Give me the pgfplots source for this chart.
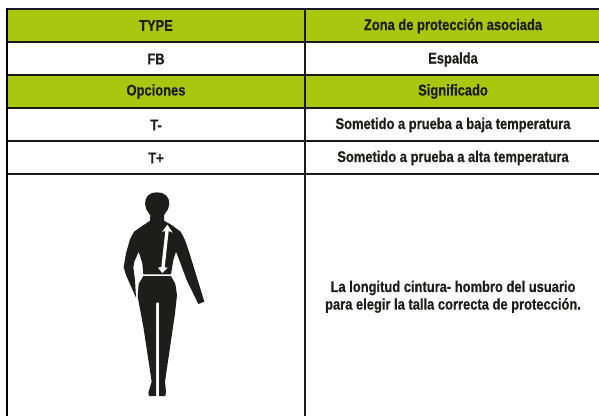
\documentclass[border=0pt]{standalone}
\usepackage{pgfplots}
\pgfplotsset{compat=1.18}
\usepackage{fontspec}
\setmainfont{Liberation Sans}[FakeStretch=0.834,BoldFeatures={FakeBold=0.5}]
\definecolor{grn}{RGB}{168,199,14}
\definecolor{ink}{RGB}{29,29,27}
\tikzset{lab/.style={font=\bfseries\fontsize{15.5}{18}\selectfont,text=ink,align=center,anchor=center}}
\pgfplotsset{
  base/.style={scale only axis,width=599pt,height=416pt,axis lines=none,clip=true,y dir=reverse,ticks=none},
  sheet/.style={base,xmin=0,xmax=599,ymin=0,ymax=416},
  figure/.style={base,xmin=-270,xmax=1527,ymin=-540,ymax=708},
  sil/.style={fill=ink,draw=none,forget plot},
  wht/.style={fill=white,draw=none,forget plot},
}
\begin{document}
\begin{tikzpicture}
\path[use as bounding box] (0,0) rectangle (599pt,416pt);
\begin{axis}[sheet,at={(0,0)},anchor=south west]
% green bands
\addplot[fill=grn,draw=none] coordinates {(7,9)(599,9)(599,42)(7,42)} --cycle;
\addplot[fill=grn,draw=none] coordinates {(7,75)(599,75)(599,108)(7,108)} --cycle;
% rules
\pgfplotsinvokeforeach{9,42,75,108,141,174}{
  \addplot[black!90,line width=2.4pt] coordinates {(6,#1)(599,#1)};
}
\addplot[black,line width=2.4pt] coordinates {(7,8)(7,416)};
\addplot[black!90,line width=2.4pt] coordinates {(305,8)(305,416)};
\node[lab] at (axis cs:156,25.5) {TYPE};
\node[lab] at (axis cs:453,26) {Zona de protección asociada};
\node[lab] at (axis cs:156,59) {FB};
\node[lab] at (axis cs:453,59.5) {Espalda};
\node[lab] at (axis cs:156,91.5) {Opciones};
\node[lab] at (axis cs:453,91.5) {Significado};
\node[lab] at (axis cs:156,125) {T-};
\node[lab] at (axis cs:453,125) {Sometido a prueba a baja temperatura};
\node[lab] at (axis cs:156,158) {T+};
\node[lab] at (axis cs:453,158) {Sometido a prueba a alta temperatura};
\node[lab] at (axis cs:453,288) {La longitud cintura- hombro del usuario};
\node[lab] at (axis cs:453,305.5) {para elegir la talla correcta de protección.};
\end{axis}
\begin{axis}[figure,at={(0,0)},anchor=south west]
% head and neck
\addplot[sil] coordinates {(201,37)(216,39)(228,46)(236,58)(238,72)(234,88)(226,99)(222,106)(222,125)(180,125)(181,106)(176,99)(169,88)(165,72)(167,58)(174,46)(186,39)} --cycle;
% upper body with arms
\addplot[sil] coordinates {(180,122)(222,122)(245,135)(272,155)(285,180)(300,225)(343,365)(325,372)(290,300)(264,230)(258,215)(250,240)(243,283)(160,283)(157,250)(146,215)(133,245)(130,262)(135,300)(138,353)(108,285)(101,262)(108,220)(120,178)(132,155)} --cycle;
% legs
\addplot[sil] coordinates {(160,288)(243,288)(256,312)(261,345)(255,400)(225,605)(228,635)(226,648)(207,648)(207,368)(198,368)(198,648)(177,648)(175,638)(185,605)(160,440)(143,350)(146,312)} --cycle;
% arrow
\addplot[wht] coordinates {(232,134)(248,158)(236,153)(224,262)(233,263)(217,279)(204,263)(214,261)(226,152)(216,156)} --cycle;
\end{axis}
\end{tikzpicture}
\end{document}
